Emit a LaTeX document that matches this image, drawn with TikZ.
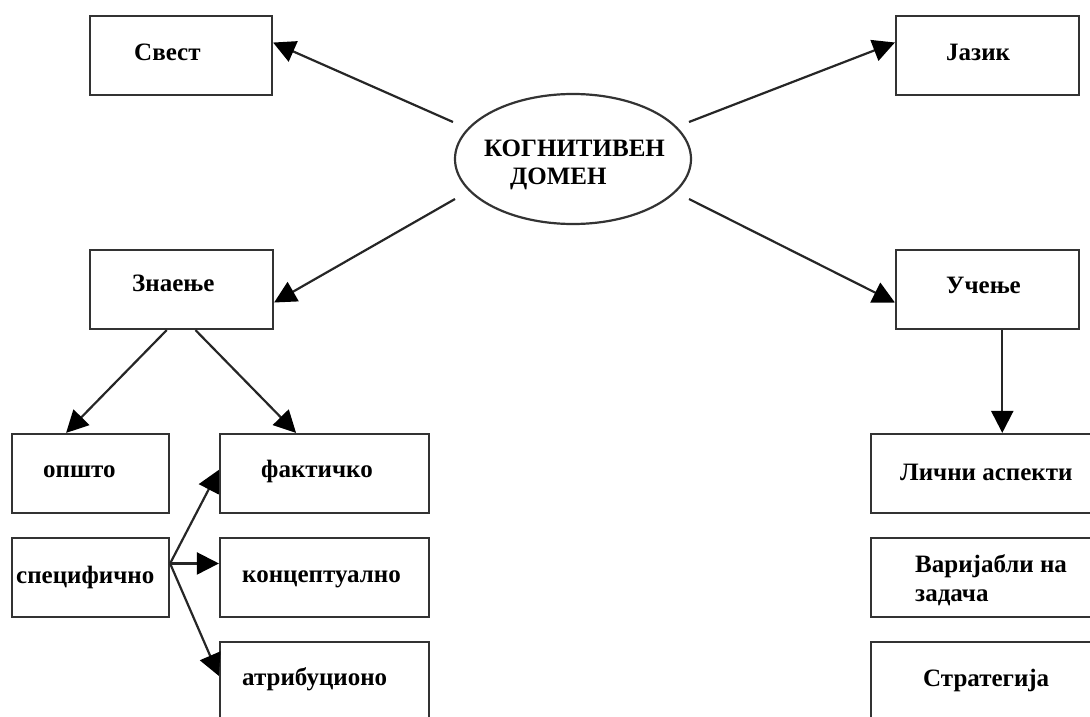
\documentclass[tikz,border=0pt]{standalone}
\usepackage{fontspec}
\setmainfont{Liberation Serif}
\usetikzlibrary{arrows.meta,shapes.geometric}
\begin{document}
\begin{tikzpicture}[x=1pt,y=-1pt,
  box/.style={draw=black!80, line width=2.2pt, minimum width=#1, minimum height=79pt, inner sep=0pt},
  box/.default=183pt,
  lbl/.style={font=\fontsize{25}{29}\selectfont\bfseries, inner sep=0pt, anchor=base west, text=black},
  arr/.style={draw=black!85, line width=2.2pt, -{Triangle[length=22pt,width=22pt,color=black]}}]
\useasboundingbox (0,0) rectangle (1090,717);
% boxes
\node[box=182pt] (svest) at (181,55.5) {};
\node[box] (jazik) at (987.5,55.5) {};
\node[box] (znaenje) at (181.5,289.5) {};
\node[box] (ucenje) at (987.5,289.5) {};
\node[box=157pt] (opsto) at (90.5,473.5) {};
\node[box=209pt] (fakt) at (324.5,473.5) {};
\node[box=157pt] (spec) at (90.5,577.5) {};
\node[box=209pt] (konc) at (324.5,577.5) {};
\node[box=209pt] (atrib) at (324.5,681.5) {};
\node[box=226pt] (licni) at (984,473.5) {};
\node[box=226pt] (varij) at (984,577.5) {};
\node[box=226pt] (strat) at (984,681.5) {};
\node[draw=black!80, line width=2.2pt, ellipse, minimum width=236pt, minimum height=130pt, inner sep=0pt] (dom) at (573,159) {};
% texts
\node[lbl] (tdom1) at (484,156) {КОГНИТИВЕН};
\node[lbl] (tdom2) at (510,184) {ДОМЕН};
\node[lbl] (tsvest) at (134,60) {Свест};
\node[lbl] (tjazik) at (946,60) {Јазик};
\node[lbl] (tzn) at (132,291) {Знаење};
\node[lbl] (tuc) at (946,293) {Учење};
\node[lbl] (top) at (43,477) {општо};
\node[lbl] (tfa) at (261,477) {фактичко};
\node[lbl] (tsp) at (16,583) {специфично};
\node[lbl] (tko) at (242,582) {концептуално};
\node[lbl] (tat) at (242,685) {атрибуционо};
\node[lbl] (tli) at (900,480) {Лични аспекти};
\node[lbl] (tva1) at (915,572) {Варијабли на};
\node[lbl] (tva2) at (915,601) {задача};
\node[lbl] (tst) at (923,686) {Стратегија};
% connector start points near the ellipse
\coordinate (cnw) at (453,122);
\coordinate (cne) at (689,122);
\coordinate (csw) at (455,199);
\coordinate (cse) at (689,199);
% connectors
\draw[arr] (cnw) -- (svest.8);
\draw[arr] (cne) -- (jazik.172);
\draw[arr] (csw) -- (znaenje.-8);
\draw[arr] (cse) -- (ucenje.188);
\draw[arr] (znaenje.250) -- (opsto.121);
\draw[arr] (znaenje.-71) -- (fakt.125);
\draw[arr] (spec.10) -- (fakt.178);
\draw[arr] (spec.10) -- (spec.10 -| konc.west);
\draw[arr] (spec.10) -- (atrib.177.5);
\draw[arr] (ucenje.-70) -- (ucenje.-70 |- licni.north);
\end{tikzpicture}
\end{document}
